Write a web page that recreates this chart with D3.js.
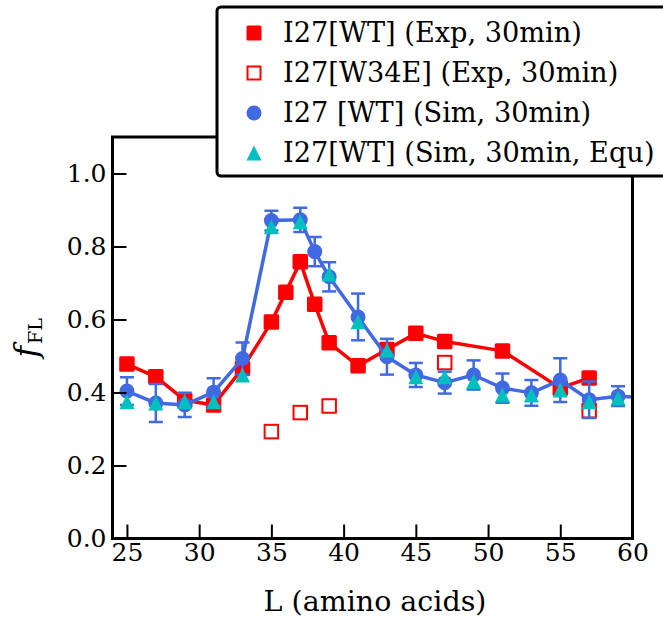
<!DOCTYPE html>
<html>
<head>
<meta charset="utf-8">
<script src="https://cdn.jsdelivr.net/npm/d3@7"></script>
<style>
  body { margin: 0; background: #fff; }
  svg { display: block; font-family: "DejaVu Serif", serif; }
</style>
</head>
<body>
<div id="chart"></div>
<script>
// experimental, I27 wild type
const expL = [25, 27, 29, 31, 33, 35, 36, 37, 38, 39, 41, 43, 45, 47, 51, 55, 57];
const expWT = [0.478, 0.443, 0.379, 0.366, 0.466, 0.593, 0.675, 0.758, 0.642, 0.536, 0.473, 0.518, 0.562, 0.540, 0.514, 0.412, 0.440];

// experimental, W34E mutant
const mutL = [35, 37, 39, 47, 57];
const mutW34E = [0.293, 0.345, 0.363, 0.482, 0.350];

// simulation, with error bars
const simL = [25, 27, 29, 31, 33, 35, 37, 38, 39, 41, 43, 45, 47, 49, 51, 53, 55, 57, 59, 61];
const simWT = [0.404, 0.371, 0.366, 0.401, 0.493, 0.871, 0.873, 0.786, 0.717, 0.607, 0.498, 0.448, 0.427, 0.448, 0.412, 0.399, 0.434, 0.380, 0.390, 0.385];
const simErr = [0.038, 0.052, 0.033, 0.038, 0.044, 0.027, 0.033, 0.040, 0.040, 0.064, 0.049, 0.033, 0.030, 0.040, 0.040, 0.035, 0.060, 0.050, 0.027, 0.030];

// simulation, equilibrium
const equL = [25, 27, 29, 31, 33, 35, 37, 39, 41, 43, 45, 47, 49, 51, 53, 55, 57, 59];
const equWT = [0.375, 0.371, 0.375, 0.375, 0.448, 0.854, 0.868, 0.725, 0.594, 0.516, 0.443, 0.443, 0.430, 0.393, 0.393, 0.407, 0.375, 0.385];

const xTicks = [25, 30, 35, 40, 45, 50, 55, 60];
const yTicks = [0.0, 0.2, 0.4, 0.6, 0.8, 1.0];
const legendLabels = ["I27[WT] (Exp, 30min)", "I27[W34E] (Exp, 30min)", "I27 [WT] (Sim, 30min)", "I27[WT] (Sim, 30min, Equ)"];

const RED = "#ff0000", BLUE = "#4169e1", CYAN = "#00bfbf";
const FONT = "DejaVu Serif, serif";
const width = 663, height = 620;

var svg = d3.select("#chart").append("svg")
    .attr("width", width)
    .attr("height", height);

var xScale = d3.scaleLinear().domain([24, 60]).range([112.5, 632.5]);
var yScale = d3.scaleLinear().domain([0, 1.1]).range([538.5, 137]);

svg.append("clipPath").attr("id", "plotClip")
    .append("rect")
    .attr("x", xScale(24)).attr("y", yScale(1.1))
    .attr("width", xScale(60) - xScale(24))
    .attr("height", yScale(0) - yScale(1.1));

let zip = (xs, ys) => xs.map((v, i) => ({x: v, y: ys[i]}));

var plot = svg.append("g").attr("clip-path", "url(#plotClip)");

var line = d3.line()
    .x(d => xScale(d.x))
    .y(d => yScale(d.y));

function square(g, x, y, s, filled, color) {
    g.append("rect")
        .attr("x", x - s / 2).attr("y", y - s / 2)
        .attr("width", s).attr("height", s)
        .attr("rx", filled ? 1.5 : 0)
        .style("fill", filled ? color : "none")
        .style("stroke", color)
        .style("stroke-width", filled ? 0 : 2);
}

function triangle(g, x, y, s, color) {
    var h = s / 2;
    g.append("path")
        .attr("d", `M${x},${y - h}L${x + h},${y + h}L${x - h},${y + h}Z`)
        .style("fill", color);
}

// red experimental line + squares
var expData = zip(expL, expWT);
plot.append("path").datum(expData)
    .attr("d", line)
    .style("fill", "none").style("stroke", RED).style("stroke-width", 3.5)
    .style("stroke-linejoin", "round");
expData.forEach(d => square(plot, xScale(d.x), yScale(d.y), 15.5, true, RED));

// hollow mutant squares
zip(mutL, mutW34E).forEach(d => square(plot, xScale(d.x), yScale(d.y), 13.5, false, RED));

// blue simulation with error bars
var simData = simL.map((v, i) => ({x: v, y: simWT[i], e: simErr[i]}));
plot.append("path").datum(simData)
    .attr("d", line)
    .style("fill", "none").style("stroke", BLUE).style("stroke-width", 3.5)
    .style("stroke-linejoin", "round");

var bars = plot.append("g").style("stroke", BLUE).style("stroke-width", 2.5);
simData.forEach(function (d) {
    var cx = xScale(d.x), top = yScale(d.y + d.e), bot = yScale(d.y - d.e);
    bars.append("line").attr("x1", cx).attr("x2", cx).attr("y1", top).attr("y2", bot);
    bars.append("line").attr("x1", cx - 7).attr("x2", cx + 7).attr("y1", top).attr("y2", top);
    bars.append("line").attr("x1", cx - 7).attr("x2", cx + 7).attr("y1", bot).attr("y2", bot);
});

plot.selectAll("circle.sim")
    .data(simData)
    .join("circle")
    .attr("class", "sim")
    .attr("cx", d => xScale(d.x))
    .attr("cy", d => yScale(d.y))
    .attr("r", 7.5)
    .style("fill", BLUE);

// cyan equilibrium triangles
zip(equL, equWT).forEach(d => triangle(plot, xScale(d.x), yScale(d.y), 15, CYAN));

// axes, ticks pointing inward
let xAxis = d3.axisBottom(xScale)
    .tickValues(xTicks)
    .tickSize(-14)
    .tickPadding(5)
    .tickFormat(d3.format("d"));

let yAxis = d3.axisLeft(yScale)
    .tickValues(yTicks)
    .tickSize(-14)
    .tickPadding(6)
    .tickFormat(d3.format(".1f"));

function draw(axis, translate) {
    var g = svg.append("g")
        .attr("transform", translate)
        .call(axis);
    g.select(".domain").remove();
    g.selectAll(".tick line").style("stroke", "black").style("stroke-width", 2);
    g.selectAll(".tick text")
        .style("font-family", FONT)
        .style("font-size", "25px")
        .style("fill", "black");
    return g;
}

draw(xAxis, `translate(0, ${yScale(0)})`);
draw(yAxis, `translate(${xScale(24)}, 0)`);

svg.append("rect")
    .attr("x", xScale(24)).attr("y", yScale(1.1))
    .attr("width", xScale(60) - xScale(24))
    .attr("height", yScale(0) - yScale(1.1))
    .style("fill", "none").style("stroke", "black").style("stroke-width", 3);

// axis labels
svg.append("text")
    .attr("x", 375)
    .attr("y", 611)
    .attr("text-anchor", "middle")
    .style("font-size", "28.5px")
    .text("L (amino acids)");

var yLab = svg.append("text")
    .attr("transform", `translate(37, ${(yScale(0) + yScale(1.1)) / 2}) rotate(-90)`)
    .attr("text-anchor", "middle");
yLab.append("tspan").style("font-style", "italic").style("font-size", "31px").text("f");
yLab.append("tspan").attr("dy", 5).attr("dx", 2).style("font-size", "19px").text("FL");

// legend
var leg = svg.append("g");
leg.append("rect")
    .attr("x", 217).attr("y", 7)
    .attr("width", 520).attr("height", 169)
    .attr("rx", 4)
    .style("fill", "white").style("stroke", "black").style("stroke-width", 3);

legendLabels.forEach(function (label, i) {
    var ly = 33 + i * 40, lx = 254;
    if (i === 0) square(leg, lx, ly, 15, true, RED);
    if (i === 1) square(leg, lx, ly, 13, false, RED);
    if (i === 2) leg.append("circle").attr("cx", lx).attr("cy", ly).attr("r", 7.5).style("fill", BLUE);
    if (i === 3) triangle(leg, lx, ly, 15, CYAN);
    leg.append("text")
        .attr("x", 283).attr("y", ly + 9)
        .style("font-size", "27.2px")
        .text(label);
});
</script>
</body>
</html>
